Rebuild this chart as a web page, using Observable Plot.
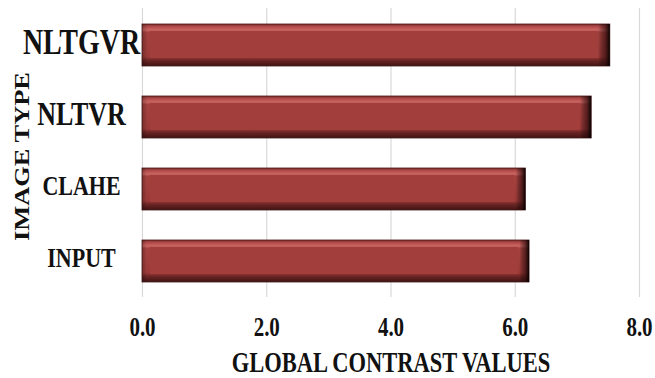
<!DOCTYPE html>
<html>
<head>
<meta charset="utf-8">
<script src="https://cdn.jsdelivr.net/npm/d3@7"></script>
<script src="https://cdn.jsdelivr.net/npm/@observablehq/plot@0.6"></script>
<style>
  html, body { margin: 0; padding: 0; background: #fff; }
  #chart svg { display: block; font-family: "Liberation Serif", "DejaVu Serif", serif; font-weight: bold; }
</style>
</head>
<body>
<div id="chart"></div>
<script>
// Global contrast value for each image type
const imageTypes = ["NLTGVR", "NLTVR", "CLAHE", "INPUT"];
const contrastValues = [7.53, 7.23, 6.17, 6.23];
const xTicks = [0, 2, 4, 6, 8];

// label font sizes (style only)
const labelFont = {NLTGVR: 28, NLTVR: 26, CLAHE: 22, INPUT: 22};
const TALL = 1.27; // vertical stretch of the lettering

const data = imageTypes.map((t, i) => ({type: t, value: contrastValues[i]}));

const chart = Plot.plot({
  width: 655,
  height: 378,
  marginLeft: 142,
  marginRight: 16,
  marginTop: 8,
  marginBottom: 81,
  x: {domain: [0, 8], axis: null},
  y: {domain: imageTypes, axis: null, paddingInner: 0.42, paddingOuter: 0.21},
  marks: [
    Plot.ruleX(xTicks, {stroke: "#d9d9d9", strokeWidth: 1.2}),
    // outer bevelled bar
    Plot.barX(data, {x: "value", y: "type", fill: "url(#bevelV)", stroke: "#4a1a1a", strokeWidth: 0.8}),
    // inner face
    Plot.barX(data, {x: "value", y: "type", fill: "#a23f3d", insetTop: 7, insetBottom: 8, insetLeft: 8, insetRight: 11}),
    // dark right-end shading
    Plot.barX(data, {x: "value", y: "type", fill: "url(#bevelH)"}),
    // x tick labels
    Plot.text(xTicks, {x: d => d, frameAnchor: "bottom", lineAnchor: "middle", dy: 30, text: d => d.toFixed(1),
      fontSize: 21, fill: "#111", className: "tall"}),
    // x axis title
    Plot.text(["GLOBAL CONTRAST VALUES"], {frameAnchor: "bottom", lineAnchor: "middle", dy: 65, text: d => d,
      fontSize: 22.5, fill: "#111", className: "tall"}),
    // category labels
    Plot.text(data, {y: "type", text: "type", frameAnchor: "left", dx: -61, dy: -3, textAnchor: "middle",
      lineAnchor: "middle", fontSize: d => labelFont[d.type], fill: "#111", className: "tall"}),
    // y axis title
    Plot.text(["IMAGE TYPE"], {frameAnchor: "left", textAnchor: "middle", lineAnchor: "middle", dx: -121, dy: 3.5,
      rotate: -90, text: d => d, fontSize: 22, fill: "#111", className: "long"})
  ]
});

// stretch the lettering: horizontal text upward, the rotated title along its length
function stretch(sel, sx, sy) {
  d3.select(chart).selectAll(sel).each(function () {
    const t = this.getAttribute("transform");
    if (t) {
      this.setAttribute("transform", `${t} scale(${sx},${sy})`);
    } else {
      const x = +(this.getAttribute("x") || 0), y = +(this.getAttribute("y") || 0);
      this.setAttribute("transform", `translate(${x},${y}) scale(${sx},${sy})`);
      this.setAttribute("x", 0);
      this.setAttribute("y", 0);
    }
  });
}
stretch(".tall text", 1, TALL);
stretch(".long text", 1.2, 1);

// gradients for the bevelled bars
const defs = d3.select(chart).insert("defs", ":first-child");
const gv = defs.append("linearGradient").attr("id", "bevelV").attr("x1", 0).attr("y1", 0).attr("x2", 0).attr("y2", 1);
[[0, "#7a2c2b"], [0.06, "#b04a48"], [0.14, "#c96563"], [0.2, "#a5423f"], [0.78, "#9a3a38"], [0.86, "#6e2625"], [1, "#3e1514"]]
  .forEach(([o, c]) => gv.append("stop").attr("offset", o).attr("stop-color", c));
const gh = defs.append("linearGradient").attr("id", "bevelH").attr("x1", 0).attr("y1", 0).attr("x2", 1).attr("y2", 0);
[[0, "#000", 0.25], [0.012, "#000", 0], [0.975, "#000", 0], [0.99, "#2a0a0a", 0.6], [1, "#000", 0.95]]
  .forEach(([o, c, a]) => gh.append("stop").attr("offset", o).attr("stop-color", c).attr("stop-opacity", a));

document.getElementById("chart").append(chart);
</script>
</body>
</html>
